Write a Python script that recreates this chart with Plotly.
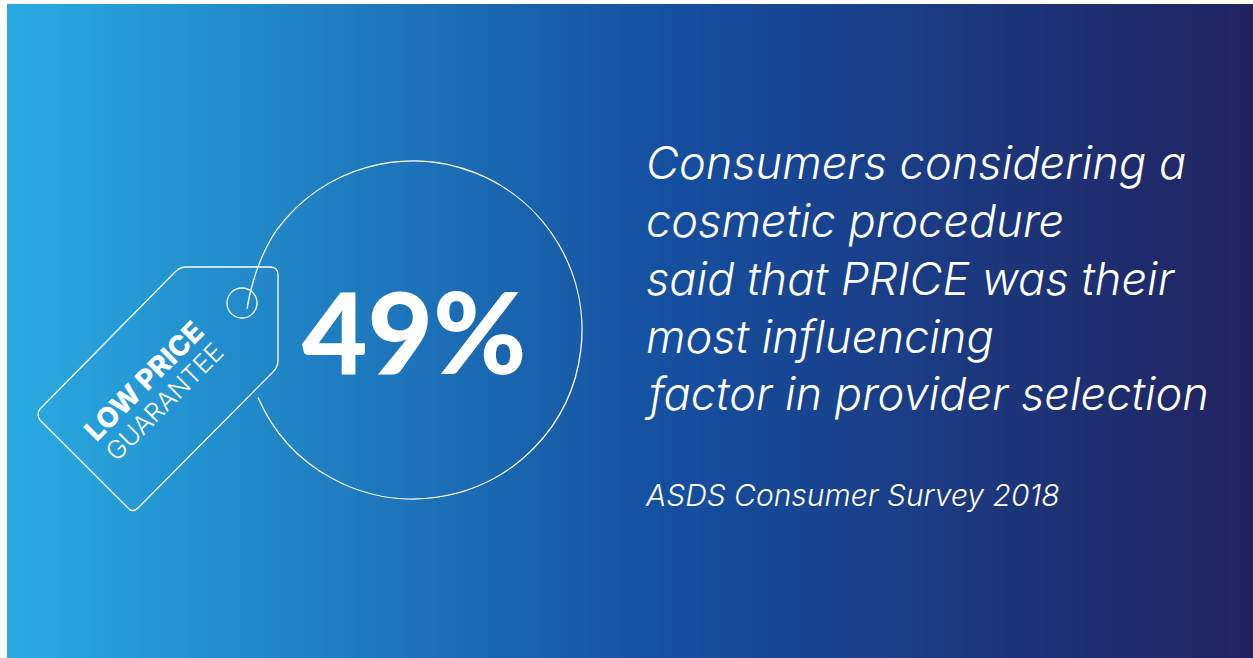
import math
import plotly.graph_objects as go

WIDTH, HEIGHT = 1253, 658
PANEL_LEFT, PANEL_TOP = 7, 4

gradient_positions = [0.0, 0.53, 1.0]
gradient_colors = ["#29ABE2", "#154FA0", "#21235F"]

headline_lines = [
    "Consumers considering a",
    "cosmetic procedure",
    "said that PRICE was their",
    "most influencing",
    "factor in provider selection",
]
headline_lefts = [644, 644, 644, 644, 642]
headline_centres = [162, 220, 278, 336, 393]
source_label = "ASDS Consumer Survey 2018"
share_label = "49%"
tag_title = "LOW PRICE"
tag_subtitle = "GUARANTEE"

INK = "#FFFFFF"
TEXT_FONT = "Inter"
FIGURE_FONT = "Lato"


def arc_path(cx, cy, r, start_deg, end_deg, steps=8):
    """Approximate a circular arc with cubic Bezier segments."""
    step = math.radians(end_deg - start_deg) / steps
    k = 4 / 3 * math.tan(step / 4)
    a = math.radians(start_deg)
    parts = [f"M{cx + r * math.cos(a):.2f},{cy + r * math.sin(a):.2f}"]
    for _ in range(steps):
        b = a + step
        parts.append(
            "C{:.2f},{:.2f} {:.2f},{:.2f} {:.2f},{:.2f}".format(
                cx + r * (math.cos(a) - k * math.sin(a)),
                cy + r * (math.sin(a) + k * math.cos(a)),
                cx + r * (math.cos(b) + k * math.sin(b)),
                cy + r * (math.sin(b) - k * math.cos(b)),
                cx + r * math.cos(b),
                cy + r * math.sin(b),
            )
        )
        a = b
    return " ".join(parts)


tag_outline = (
    "M186,267 L270,267 Q278,267 278,275 L278,360 Q278,367 273,372 "
    "L138,508 Q133,513 128,508 L40,420 Q36,414 40,409 L175,272 Q180,267 186,267 Z"
)
string_path = "M247,309 C250,289 259,255 278,228"

fig = go.Figure()

# Background panel: a horizontal ramp drawn as a heatmap with explicit cell edges.
ramp_x = [PANEL_LEFT + (WIDTH - PANEL_LEFT) * i / 250 for i in range(251)]
ramp_y = [PANEL_TOP, (PANEL_TOP + HEIGHT) / 2, HEIGHT]
ramp_z = [[i / 249 for i in range(250)]] * 2
fig.add_trace(
    go.Heatmap(
        x=ramp_x,
        y=ramp_y,
        z=ramp_z,
        zmin=0,
        zmax=1,
        showscale=False,
        hoverinfo="skip",
        colorscale=[[p, c] for p, c in zip(gradient_positions, gradient_colors)],
    )
)

line = dict(color=INK, width=1.3)
shapes = [
    dict(type="path", path=tag_outline, line=line),
    dict(type="path", path=string_path, line=line),
    dict(type="circle", x0=227, x1=257, y0=288, y1=318, line=line),
    dict(type="path", path=arc_path(413, 330, 169, 217, 516.5), line=line),
]

annotations = [
    dict(x=x, y=y, text=t, xanchor="left", yanchor="middle",
         font=dict(family=TEXT_FONT, size=45.2, color=INK, style="italic", weight=300))
    for t, x, y in zip(headline_lines, headline_lefts, headline_centres)
]
annotations += [
    dict(x=643, y=495, text=source_label, xanchor="left", yanchor="middle",
         font=dict(family=TEXT_FONT, size=30, color=INK, style="italic", weight=300)),
    dict(x=414.5, y=330, text=share_label, xanchor="center", yanchor="middle",
         font=dict(family=FIGURE_FONT, size=113, color=INK, weight=900)),
    dict(x=144, y=381, text=tag_title, textangle=-45, xanchor="center", yanchor="middle",
         font=dict(family=TEXT_FONT, size=28, color=INK, weight=800)),
    dict(x=164, y=401, text=tag_subtitle, textangle=-45, xanchor="center", yanchor="middle",
         font=dict(family=TEXT_FONT, size=25.5, color=INK, weight=300)),
]
for a in annotations:
    a.update(showarrow=False, xref="x", yref="y")

fig.update_layout(
    width=WIDTH,
    height=HEIGHT,
    margin=dict(l=0, r=0, t=0, b=0),
    paper_bgcolor="#FFFFFF",
    plot_bgcolor="#FFFFFF",
    shapes=shapes,
    annotations=annotations,
    xaxis=dict(range=[0, WIDTH], visible=False, fixedrange=True),
    yaxis=dict(range=[HEIGHT, 0], visible=False, fixedrange=True),
)

fig.write_html("out.html", config={"displayModeBar": False})
